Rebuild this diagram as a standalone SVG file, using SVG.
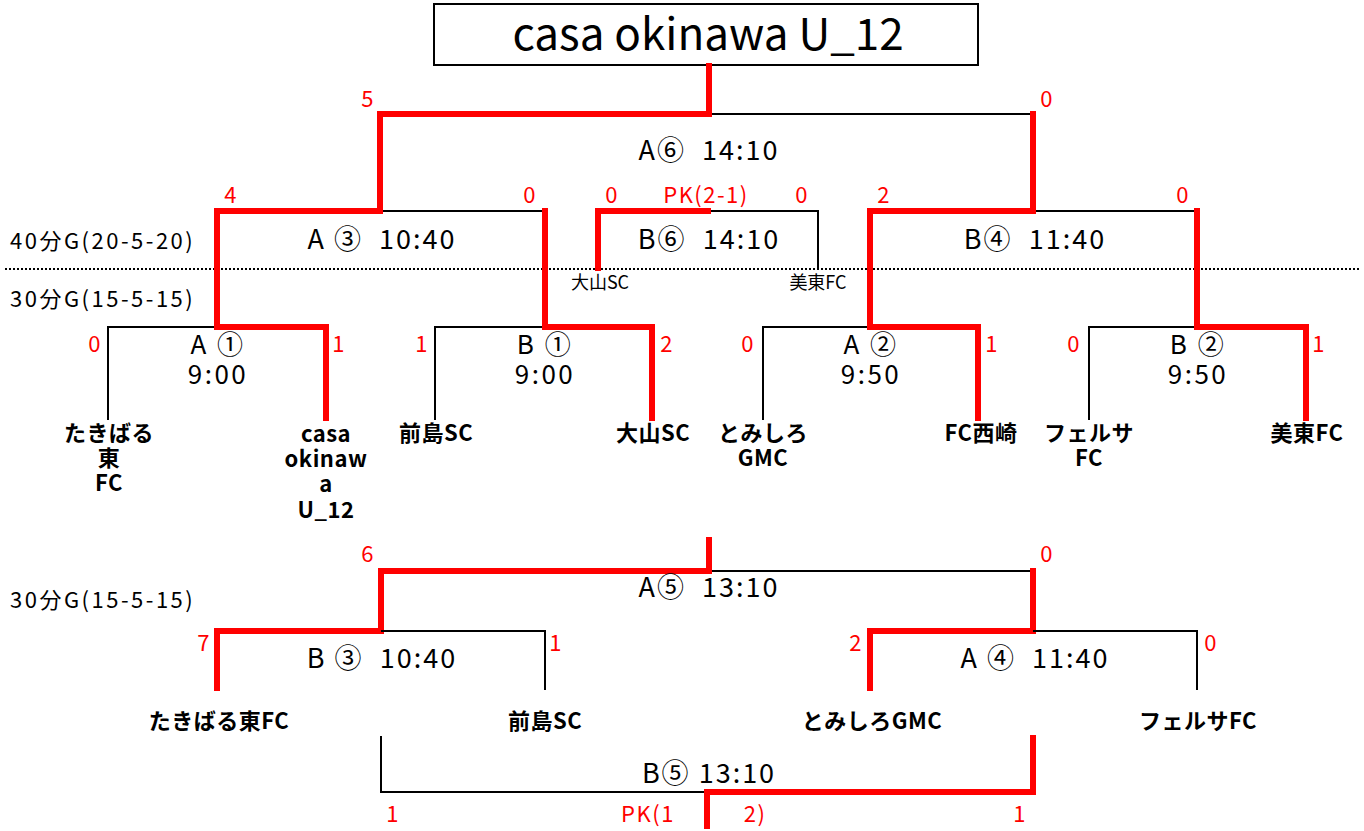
<svg xmlns="http://www.w3.org/2000/svg" width="1364" height="831" viewBox="0 0 1364 831" xml:space="preserve">
<style>
text{font-family:"Noto Sans CJK JP","Noto Sans",sans-serif;fill:#000;white-space:pre}
.t{font-size:44px;text-anchor:middle}
.m{font-size:27px;text-anchor:middle;letter-spacing:2px}
.m2{font-size:26px;text-anchor:middle;letter-spacing:2.5px}
.g{font-size:22px;letter-spacing:2.5px}
.s{font-size:22px;fill:#f00;text-anchor:middle;letter-spacing:1.5px}
.n{font-size:22px;font-weight:bold;text-anchor:middle;letter-spacing:0.5px}
.sm{font-size:18px;text-anchor:middle}
.r{stroke:#f00;stroke-width:6;fill:none;stroke-linecap:square}
.b{stroke:#000;stroke-width:2;fill:none}
.d{stroke:#000;stroke-width:2;stroke-dasharray:2 2;fill:none}
</style>
<g id="title"><rect x="434" y="4" width="544" height="61" fill="#fff" stroke="#000" stroke-width="2"/><text class="t" x="708" y="50">casa okinawa U_12</text></g>
<g id="connectors">
<line class="d" x1="5" y1="269" x2="1360" y2="269"/>
<path class="b" d="M709 114H1033"/>
<path class="r" d="M709 66V114H380V211"/>
<path class="r" d="M1033 114V211"/>
<path class="b" d="M380 211H545"/>
<path class="r" d="M380 211H217V327"/>
<path class="r" d="M545 211V327"/>
<path class="b" d="M1033 211H1197"/>
<path class="r" d="M1033 211H870V327"/>
<path class="r" d="M1197 211V327"/>
<path class="b" d="M708 211H818V270"/>
<path class="r" d="M598 268V211H708"/>
<path class="b" d="M108 420V327H217"/>
<path class="r" d="M217 327H326V418"/>
<path class="b" d="M435 420V327H545"/>
<path class="r" d="M545 327H652V418"/>
<path class="b" d="M763 420V327H870"/>
<path class="r" d="M870 327H978V418"/>
<path class="b" d="M1089 420V327H1197"/>
<path class="r" d="M1197 327H1306V418"/>
<path class="b" d="M709 571H1033"/>
<path class="r" d="M709 540V571H381V631"/>
<path class="r" d="M381 631H217V688"/>
<path class="b" d="M381 631H545V690"/>
<path class="r" d="M1033 571V631H870V688"/>
<path class="b" d="M1033 631H1197V690"/>
<path class="b" d="M381 736V792H707"/>
<path class="r" d="M1033 738V792H707V826"/>
</g>
<g id="labels">
<text class="g" x="10" y="249">40分G(20-5-20)</text>
<text class="g" x="10" y="307">30分G(15-5-15)</text>
<text class="g" x="10" y="608">30分G(15-5-15)</text>
</g>
<g id="match-A6"><text class="m" x="709" y="160">A⑥  14:10</text><text class="s" x="368" y="107">5</text><text class="s" x="1047" y="107">0</text></g>
<g id="match-A3"><text class="m" x="382" y="249">A ③  10:40</text><text class="s" x="231" y="203">4</text><text class="s" x="530" y="203">0</text></g>
<g id="match-B6"><text class="m" x="709" y="249">B⑥  14:10</text><text class="s" x="612" y="203">0</text><text class="s" x="706" y="203">PK(2-1)</text><text class="s" x="802" y="203">0</text>
<text class="sm" x="600" y="289">大山SC</text><text class="sm" x="818" y="289">美東FC</text></g>
<g id="match-B4"><text class="m" x="1035" y="249">B④  11:40</text><text class="s" x="884" y="203">2</text><text class="s" x="1183" y="203">0</text></g>
<g id="match-A1"><text class="m2" x="218" y="354">A ①</text><text class="m2" x="218" y="384">9:00</text><text class="s" x="95" y="352">0</text><text class="s" x="339" y="352">1</text></g>
<g id="match-B1"><text class="m2" x="545" y="354">B ①</text><text class="m2" x="545" y="384">9:00</text><text class="s" x="422" y="352">1</text><text class="s" x="667" y="352">2</text></g>
<g id="match-A2"><text class="m2" x="871" y="354">A ②</text><text class="m2" x="871" y="384">9:50</text><text class="s" x="748" y="352">0</text><text class="s" x="992" y="352">1</text></g>
<g id="match-B2"><text class="m2" x="1198" y="354">B ②</text><text class="m2" x="1198" y="384">9:50</text><text class="s" x="1074" y="352">0</text><text class="s" x="1319" y="352">1</text></g>
<g id="team-takibaru"><text class="n" x="109" y="441">たきばる</text><text class="n" x="109" y="466">東</text><text class="n" x="109" y="491">FC</text></g>
<g id="team-casa"><text class="n" x="326" y="442">casa</text><text class="n" x="326" y="467">okinaw</text><text class="n" x="326" y="492">a</text><text class="n" x="326" y="518">U_12</text></g>
<g id="team-maejima"><text class="n" x="436" y="441">前島SC</text></g>
<g id="team-oyama"><text class="n" x="653" y="441">大山SC</text></g>
<g id="team-tomishiro"><text class="n" x="763" y="441">とみしろ</text><text class="n" x="763" y="466">GMC</text></g>
<g id="team-nishizaki"><text class="n" x="981" y="441">FC西崎</text></g>
<g id="team-felsa"><text class="n" x="1089" y="441">フェルサ</text><text class="n" x="1089" y="466">FC</text></g>
<g id="team-bitou"><text class="n" x="1307" y="441">美東FC</text></g>
<g id="match-A5"><text class="m" x="709" y="597">A⑤  13:10</text><text class="s" x="368" y="562">6</text><text class="s" x="1047" y="562">0</text></g>
<g id="match-B3"><text class="m" x="382" y="668">B ③  10:40</text><text class="s" x="204" y="651">7</text><text class="s" x="556" y="651">1</text></g>
<g id="match-A4"><text class="m" x="1035" y="668">A ④  11:40</text><text class="s" x="856" y="651">2</text><text class="s" x="1211" y="651">0</text></g>
<g id="lower-teams"><text class="n" x="219" y="729">たきばる東FC</text><text class="n" x="545" y="729">前島SC</text><text class="n" x="872" y="729">とみしろGMC</text><text class="n" x="1198" y="729">フェルサFC</text></g>
<g id="match-B5"><text class="m" x="709" y="783">B⑤ 13:10</text><text class="s" x="393" y="822">1</text><text class="s" x="648" y="822">PK(1</text><text class="s" x="755" y="822">2)</text><text class="s" x="1020" y="822">1</text></g>
</svg>
